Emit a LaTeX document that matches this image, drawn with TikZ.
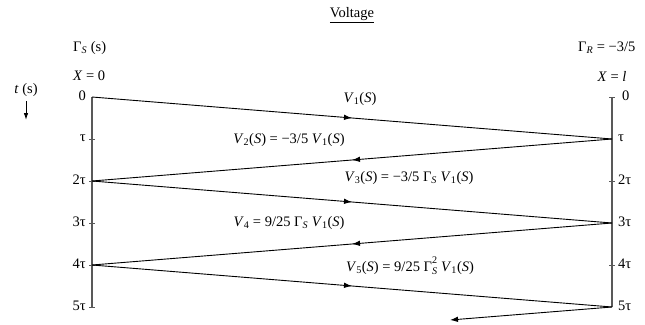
\documentclass[tikz,border=0pt]{standalone}
\usepackage{fontspec}
\setmainfont{Liberation Serif}
\usetikzlibrary{decorations.markings,arrows.meta}
\newcommand\sbs[1]{\textsubscript{#1}}
\begin{document}
\begin{tikzpicture}[x=1pt,y=-1pt,
  every node/.style={font=\fontsize{14.5}{17}\selectfont, inner sep=0pt},
  axis/.style={draw=black!65, line width=1.4pt},
  ray/.style={draw=black, line width=0.9pt,
    postaction={decorate},
    decoration={markings, mark=at position 0.5 with {\arrow{Latex[length=8pt,width=5.5pt]}}}},
  tick/.style={draw=black!65, line width=1pt},
  lab/.style={anchor=east},
  rlab/.style={anchor=west}]
\useasboundingbox (0,0) rectangle (645,324);
% axis points
\foreach \i in {0,...,5} {
  \coordinate (L\i) at (92,97+42*\i);
  \coordinate (R\i) at (612,97+42*\i);
}
\coordinate (E) at (450,320);
\draw[axis] (L0) -- (L5);
\draw[axis] (R0) -- (R5);
\foreach \i in {1,...,5} { \draw[tick] ([xshift=-3pt]L\i) -- ([xshift=3pt]L\i); }
\foreach \i in {0,2,4} { \draw[tick] ([xshift=-3pt]R\i) -- ([xshift=3pt]R\i); }
% axis labels
\node[lab] (l0) at (86,96) {0};
\node[lab] (l1) at (86,138) {τ};
\node[lab] (l2) at (86,180) {2τ};
\node[lab] (l3) at (86,222) {3τ};
\node[lab] (l4) at (86,264) {4τ};
\node[lab] (l5) at (86,306) {5τ};
\node[rlab] (r0) at (622,96) {0};
\node[rlab] (r1) at (618,138) {τ};
\node[rlab] (r2) at (618,180) {2τ};
\node[rlab] (r3) at (618,222) {3τ};
\node[rlab] (r4) at (618,264) {4τ};
\node[rlab] (r5) at (618,306) {5τ};
% rays
\draw[ray] (L0) -- (R1);
\draw[ray] (R1) -- (L2);
\draw[ray] (L2) -- (R3);
\draw[ray] (R3) -- (L4);
\draw[ray] (L4) -- (R5);
\draw[draw=black, line width=0.9pt, -{Latex[length=8pt,width=5.5pt]}] (R5) -- (E);
% ray labels
\node (v1) at (360,99) {\textit{V}\sbs{1}(\textit{S})};
\node (v2) at (289,140) {\textit{V}\sbs{2}(\textit{S}) = −3/5 \textit{V}\sbs{1}(\textit{S})};
\node (v3) at (409,178) {\textit{V}\sbs{3}(\textit{S}) = −3/5 Γ\sbs{\itshape S} \textit{V}\sbs{1}(\textit{S})};
\node (v4) at (289,223) {\textit{V}\sbs{4} = 9/25 Γ\sbs{\itshape S} \textit{V}\sbs{1}(\textit{S})};
\node (v5) at (410,266) {\textit{V}\sbs{5}(\textit{S}) = 9/25 Γ\rlap{\raisebox{0.35ex}{\textsuperscript{2}}}\raisebox{-0.15ex}{\sbs{\itshape S}} \textit{V}\sbs{1}(\textit{S})};
% headers
\node (title) at (352,15) {\underline{Voltage}};
\node[anchor=west] (gs) at (73,48) {Γ\sbs{\itshape S} (s)};
\node[anchor=west] (x0) at (73,76) {\textit{X} = 0};
\node[anchor=west] (gr) at (578,48) {Γ\sbs{\itshape R} = −3/5};
\node (xl) at (612,76) {\textit{X} = \textit{l}};
\node (ts) at (26,90) {\textit{t} (s)};
\coordinate (ta) at (26,101);
\coordinate (tb) at (26,120);
\draw[line width=0.9pt, -{Latex[length=7pt,width=4.5pt]}] (ta) -- (tb);
\end{tikzpicture}
\end{document}
